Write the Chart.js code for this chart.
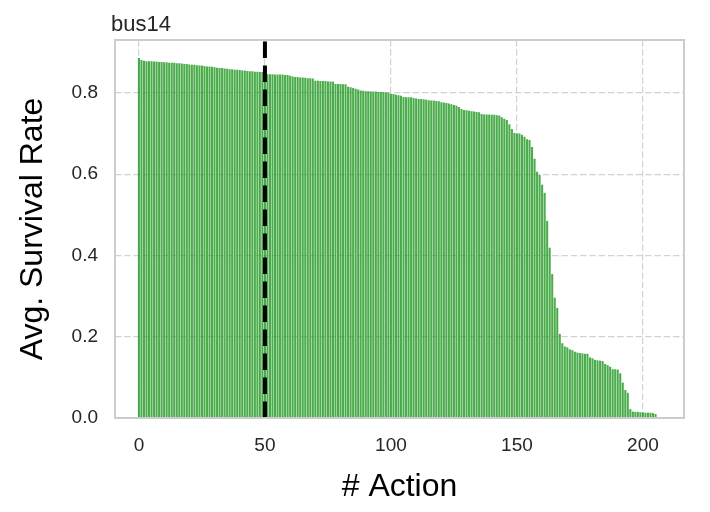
<!DOCTYPE html>
<html>
<head>
<meta charset="utf-8">
<script src="https://cdn.jsdelivr.net/npm/chart.js@4.4.1/dist/chart.umd.min.js"></script>
<style>
  html, body { margin: 0; padding: 0; background: #fff; }
  #wrap { width: 710px; height: 512px; }
</style>
</head>
<body>
<div id="wrap"><canvas id="survivalChart" width="710" height="512"></canvas></div>
<script>
// avg. survival rate per action, sorted
var survivalRate = [
    0.886, 0.881, 0.879, 0.878, 0.878, 0.878, 0.877, 0.877, 0.876, 0.876,
    0.875, 0.875, 0.874, 0.874, 0.874, 0.873, 0.873, 0.872, 0.871, 0.871,
    0.870, 0.869, 0.869, 0.868, 0.867, 0.867, 0.866, 0.865, 0.865, 0.864,
    0.863, 0.862, 0.861, 0.861, 0.860, 0.859, 0.858, 0.858, 0.857, 0.857,
    0.856, 0.855, 0.855, 0.854, 0.853, 0.853, 0.852, 0.852, 0.851, 0.851,
    0.847, 0.846, 0.846, 0.846, 0.845, 0.845, 0.845, 0.845, 0.844, 0.844,
    0.842, 0.840, 0.839, 0.839, 0.838, 0.838, 0.837, 0.836, 0.836, 0.835,
    0.830, 0.830, 0.829, 0.829, 0.829, 0.828, 0.828, 0.828, 0.822, 0.822,
    0.822, 0.821, 0.821, 0.815, 0.814, 0.812, 0.810, 0.808, 0.806, 0.805,
    0.804, 0.804, 0.803, 0.803, 0.803, 0.802, 0.802, 0.802, 0.801, 0.800,
    0.798, 0.797, 0.795, 0.794, 0.793, 0.790, 0.789, 0.789, 0.789, 0.787,
    0.786, 0.785, 0.785, 0.784, 0.783, 0.782, 0.781, 0.781, 0.780, 0.779,
    0.777, 0.776, 0.775, 0.774, 0.772, 0.770, 0.768, 0.765, 0.760, 0.758,
    0.757, 0.756, 0.755, 0.754, 0.753, 0.752, 0.748, 0.747, 0.747, 0.747,
    0.746, 0.746, 0.745, 0.744, 0.740, 0.736, 0.733, 0.723, 0.711, 0.701,
    0.700, 0.700, 0.697, 0.692, 0.686, 0.684, 0.667, 0.638, 0.606, 0.598,
    0.574, 0.554, 0.485, 0.419, 0.354, 0.296, 0.271, 0.207, 0.184, 0.176,
    0.174, 0.169, 0.167, 0.163, 0.161, 0.160, 0.159, 0.158, 0.158, 0.149,
    0.147, 0.143, 0.142, 0.141, 0.140, 0.133, 0.130, 0.126, 0.120, 0.120,
    0.119, 0.110, 0.087, 0.069, 0.062, 0.022, 0.016, 0.015, 0.015, 0.014,
    0.014, 0.013, 0.013, 0.013, 0.012, 0.010
];
var actionIdx = survivalRate.map(function (v, i) { return i; });

var xTicks = [0, 50, 100, 150, 200];
var yTicks = [0.0, 0.2, 0.4, 0.6, 0.8];
var xRange = [-9.5, 216.3];
var yRange = [0, 0.93];
var cutoffAction = 50;
var chartTitle = 'bus14';

var gridStyle = { color: '#d2d2d2', lineWidth: 1.2, drawTicks: false, offset: false };
var tickFont = { family: 'Liberation Sans, Arial, sans-serif', size: 19 };
var labelFont = { family: 'Liberation Sans, Arial, sans-serif', size: 32, lineHeight: 1 };

// frame around the plot + the little title on the top left
var framePlugin = {
    id: 'frame',
    afterDatasetsDraw: function (chart) {
        var a = chart.chartArea, ctx = chart.ctx;
        ctx.save();
        ctx.strokeStyle = '#cccccc';
        ctx.lineWidth = 2;
        ctx.strokeRect(a.left, a.top, a.right - a.left, a.bottom - a.top);
        ctx.fillStyle = '#262626';
        ctx.font = '22px "Liberation Sans", Arial, sans-serif';
        ctx.textAlign = 'left';
        ctx.textBaseline = 'alphabetic';
        ctx.fillText(chartTitle, a.left - 4, 30.5);
        ctx.restore();
    }
};

var ctx = document.getElementById('survivalChart').getContext('2d');
var survivalChart = new Chart(ctx, {
    type: 'bar',
    data: {
        datasets: [
            {
                type: 'line',
                data: [{ x: cutoffAction, y: yRange[0] }, { x: cutoffAction, y: yRange[1] }],
                borderColor: '#000000',
                borderWidth: 4,
                borderDash: [16.5, 7.5],
                borderCapStyle: 'butt',
                pointRadius: 0,
                order: 0
            },
            {
                type: 'bar',
                data: actionIdx.map(function (i) { return { x: i, y: survivalRate[i] }; }),
                backgroundColor: 'rgba(44, 158, 44, 0.85)',
                borderWidth: 0,
                inflateAmount: 0,
                barPercentage: 0.82,
                categoryPercentage: 1.0,
                order: 1
            }
        ]
    },
    options: {
        responsive: false,
        animation: false,
        devicePixelRatio: 1,
        layout: { padding: { left: 0, right: 26, top: 40, bottom: 0 } },
        plugins: {
            legend: { display: false },
            tooltip: { enabled: false },
            title: { display: false }
        },
        scales: {
            x: {
                type: 'linear',
                min: xRange[0],
                max: xRange[1],
                offset: false,
                grid: gridStyle,
                border: { display: false, dash: [6.5, 2.8] },
                afterBuildTicks: function (scale) {
                    scale.ticks = xTicks.map(function (v) { return { value: v }; });
                },
                afterFit: function (scale) { scale.height = 94; },
                ticks: {
                    font: tickFont,
                    color: '#262626',
                    padding: 16,
                    maxRotation: 0,
                    callback: function (v) { return String(v); }
                },
                title: {
                    display: true,
                    text: '# Action',
                    color: '#000000',
                    font: labelFont,
                    padding: { top: 0, bottom: 9 }
                }
            },
            y: {
                type: 'linear',
                min: yRange[0],
                max: yRange[1],
                grid: gridStyle,
                border: { display: false, dash: [6.5, 2.8] },
                afterBuildTicks: function (scale) {
                    scale.ticks = yTicks.map(function (v) { return { value: v }; });
                },
                afterFit: function (scale) { scale.width = 115; },
                ticks: {
                    font: tickFont,
                    color: '#262626',
                    padding: 17,
                    callback: function (v) { return v.toFixed(1); }
                },
                title: {
                    display: true,
                    text: 'Avg. Survival Rate',
                    color: '#000000',
                    font: labelFont,
                    padding: { top: 17, bottom: 0 }
                }
            }
        }
    },
    plugins: [framePlugin]
});
</script>
</body>
</html>
